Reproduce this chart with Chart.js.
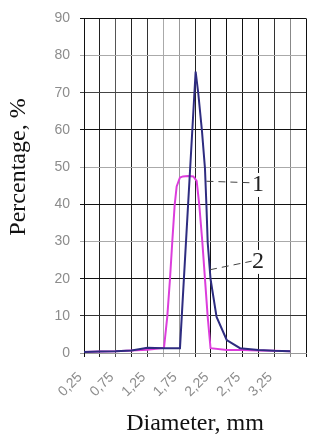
<!DOCTYPE html>
<html>
<head>
<meta charset="utf-8">
<script src="https://cdn.jsdelivr.net/npm/chart.js"></script>
<style>
  body { margin: 0; background: #fff; }
  #wrap { width: 312px; height: 436px; }
</style>
</head>
<body>
<div id="wrap"><canvas id="myChart" width="312" height="436"></canvas></div>
<script>
// curva 1 (blu)
var diamCurve1 = [0.25, 0.5, 0.75, 1.0, 1.25, 1.5, 1.763, 2.01, 2.052, 2.11, 2.157, 2.18, 2.2, 2.245, 2.34, 2.5, 2.71, 3.0, 3.25, 3.5];
var pctCurve1 = [0.3, 0.4, 0.5, 0.7, 1.4, 1.3, 1.3, 75.7, 69.8, 59.7, 49.7, 39.8, 29.8, 19.9, 9.7, 3.5, 1.3, 0.8, 0.6, 0.5];
// curva 2 (magenta)
var diamCurve2 = [0.25, 0.5, 0.75, 1.0, 1.25, 1.511, 1.563, 1.606, 1.642, 1.68, 1.711, 1.763, 1.81, 1.89, 1.973, 2.026, 2.067, 2.115, 2.157, 2.2, 2.245, 2.5, 2.75, 3.0, 3.25, 3.5];
var pctCurve2 = [0.3, 0.4, 0.5, 0.7, 0.9, 1.4, 9.8, 20, 30, 39.9, 44.8, 47.2, 47.5, 47.6, 47.5, 46.3, 39.9, 30, 20, 9.8, 1.3, 0.8, 0.8, 0.7, 0.6, 0.5];

var xTicks = [0.25, 0.5, 0.75, 1.0, 1.25, 1.5, 1.75, 2.0, 2.25, 2.5, 2.75, 3.0, 3.25, 3.5, 3.75];
var xTickLabels = ['0,25', '', '0,75', '', '1,25', '', '1,75', '', '2,25', '', '2,75', '', '3,25', '', ''];
var yTicks = [0, 10, 20, 30, 40, 50, 60, 70, 80, 90];

// etichette "1" e "2" con linea tratteggiata (coordinate nei valori degli assi)
var curveLabels = [
  { text: '1', from: [2.18, 46.2], to: [2.867, 45.8], at: [2.995, 45.2] },
  { text: '2', from: [2.237, 22.4], to: [2.894, 24.7], at: [2.995, 24.5] }
];

function toPoints(xs, ys) {
  var pts = [];
  for (var i = 0; i < xs.length; i++) {
    pts.push({ x: xs[i], y: ys[i] });
  }
  return pts;
}

var serif = "'Times New Roman', 'Liberation Serif', serif";
var sans = "Arial, 'Liberation Sans', sans-serif";

//Plugin per le etichette delle curve
var labelsPlugin = {
  id: 'curveLabels',
  afterDatasetsDraw: function (chart) {
    var ctx = chart.ctx;
    var sx = chart.scales.x;
    var sy = chart.scales.y;
    ctx.save();
    for (var i = 0; i < curveLabels.length; i++) {
      var l = curveLabels[i];
      var px = sx.getPixelForValue(l.at[0]);
      var py = sy.getPixelForValue(l.at[1]);
      ctx.fillStyle = '#fff';
      ctx.fillRect(px - 7, py - 12, 14, 24);
      ctx.strokeStyle = '#444';
      ctx.lineWidth = 1;
      ctx.setLineDash([7, 5]);
      ctx.beginPath();
      ctx.moveTo(sx.getPixelForValue(l.from[0]), sy.getPixelForValue(l.from[1]));
      ctx.lineTo(sx.getPixelForValue(l.to[0]), sy.getPixelForValue(l.to[1]));
      ctx.stroke();
      ctx.setLineDash([]);
      ctx.fillStyle = '#222';
      ctx.font = '24px ' + serif;
      ctx.textAlign = 'center';
      ctx.textBaseline = 'middle';
      ctx.fillText(l.text, px, py);
    }
    ctx.restore();
  }
};

//Plugin per il titolo dell'asse y
var yTitlePlugin = {
  id: 'yTitle',
  afterDraw: function (chart) {
    var ctx = chart.ctx;
    ctx.save();
    ctx.translate(19, 167);
    ctx.rotate(-Math.PI / 2);
    ctx.font = '24px ' + serif;
    ctx.fillStyle = '#111';
    ctx.textAlign = 'center';
    ctx.textBaseline = 'middle';
    ctx.fillText('Percentage, %', 0, 0);
    ctx.restore();
  }
};

function chart() {
  var ctx = document.getElementById('myChart').getContext('2d');
  var myChart = new Chart(ctx, {
    type: 'line',
    data: {
      datasets: [{
        label: '1',
        data: toPoints(diamCurve1, pctCurve1),
        borderColor: '#2e2c80',
        borderWidth: 2,
        pointRadius: 0,
        tension: 0,
        fill: false
      }, {
        label: '2',
        data: toPoints(diamCurve2, pctCurve2),
        borderColor: '#dc3ddc',
        borderWidth: 2,
        pointRadius: 0,
        tension: 0,
        fill: false
      }]
    },
    options: {
      responsive: false,
      animation: false,
      devicePixelRatio: 1,
      layout: { padding: { top: 18, right: 6, left: 0, bottom: 0 } },
      plugins: {
        legend: { display: false },
        tooltip: { enabled: false }
      },
      scales: {
        x: {
          type: 'linear',
          min: 0.25,
          max: 3.75,
          afterBuildTicks: function (scale) {
            scale.ticks = xTicks.map(function (v) { return { value: v }; });
          },
          afterFit: function (scale) {
            scale.height = 83;
            scale.paddingLeft = 0;
            scale.paddingRight = 0;
          },
          ticks: {
            autoSkip: false,
            minRotation: 45,
            maxRotation: 45,
            padding: 12,
            labelOffset: -4,
            color: '#8c8c8c',
            font: { family: sans, size: 14 },
            callback: function (value, index) { return xTickLabels[index]; }
          },
          grid: {
            color: ['#111', '#222', '#555', '#222', '#333', '#aaa', '#999', '#222', '#111', '#111', '#111', '#111', '#333', '#888', '#111'],
            lineWidth: 1,
            tickLength: 4
          },
          border: { color: '#999' },
          title: {
            display: true,
            text: 'Diameter, mm',
            color: '#111',
            font: { family: serif, size: 24, lineHeight: 1 },
            padding: { top: 0, bottom: 0 }
          }
        },
        y: {
          min: 0,
          max: 90,
          afterBuildTicks: function (scale) {
            scale.ticks = yTicks.map(function (v) { return { value: v }; });
          },
          afterFit: function (scale) { scale.width = 84; },
          ticks: {
            padding: 10,
            color: '#8c8c8c',
            font: { family: sans, size: 14 }
          },
          grid: {
            color: ['#999', '#333', '#111', '#aaa', '#111', '#aaa', '#111', '#444', '#aaa', '#111'],
            lineWidth: 1,
            tickLength: 4
          },
          border: { color: '#111' }
        }
      }
    },
    plugins: [labelsPlugin, yTitlePlugin]
  });
}

chart();
</script>
</body>
</html>
